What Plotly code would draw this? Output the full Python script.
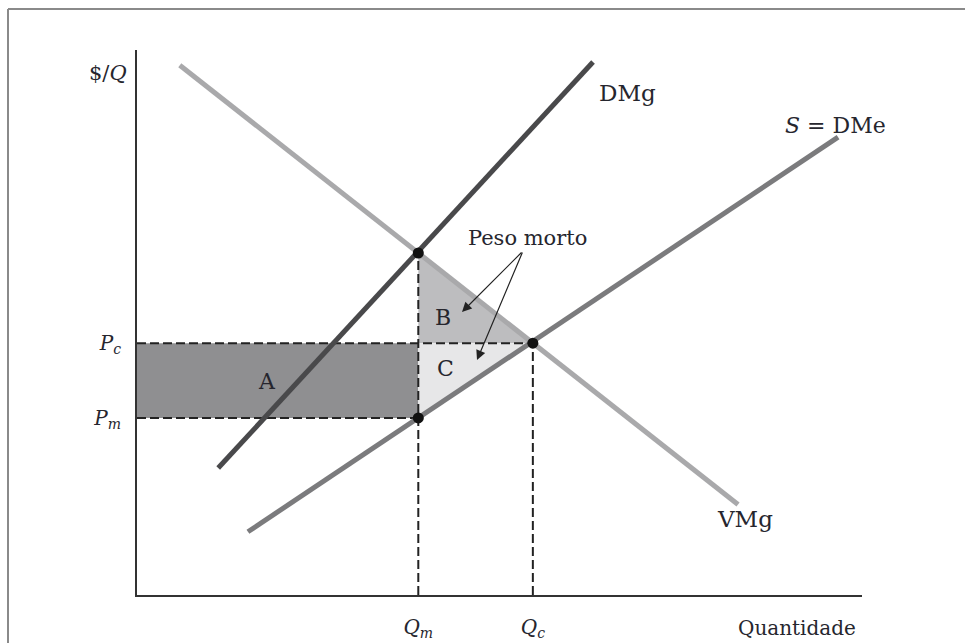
import plotly.graph_objects as go

# ---- data (schematic economics diagram, 0-100 units) ----
vmg_x = [5.9, 82.9]
vmg_y = [97.2, 16.6]
dmg_x = [11.2, 62.9]
dmg_y = [23.3, 97.8]
s_x = [15.3, 96.7]
s_y = [11.6, 84.0]

Qm, Qc = 38.8, 54.6
Pm, Pc = 32.5, 46.2
P_top = 62.75  # VMg at Qm

x_tickvals = [Qm, Qc]
x_ticktext = ["<i>Q<sub>m</sub></i>", "<i>Q<sub>c</sub></i>"]
y_tickvals = [Pm, Pc]
y_ticktext = ["<i>P<sub>m</sub></i>", "<i>P<sub>c</sub></i>"]

FONT = "DejaVu Serif"
TXT = "#26262e"

W, H = 965, 643
x0px, x1px = 137, 862
y0px, y1px = 595, 50

fig = go.Figure()

# shaded regions
fig.add_trace(go.Scatter(x=[0, Qm, Qm, 0], y=[Pm, Pm, Pc, Pc], fill="toself",
                         fillcolor="#8f8f91", line=dict(width=0), mode="lines",
                         hoverinfo="skip", showlegend=False))
fig.add_trace(go.Scatter(x=[Qm, Qm, Qc], y=[P_top, Pc, Pc], fill="toself",
                         fillcolor="#bdbdbf", line=dict(width=0), mode="lines",
                         hoverinfo="skip", showlegend=False))
fig.add_trace(go.Scatter(x=[Qm, Qc, Qm], y=[Pc, Pc, Pm], fill="toself",
                         fillcolor="#e7e7e8", line=dict(width=0), mode="lines",
                         hoverinfo="skip", showlegend=False))

# dashed guide lines
dash = dict(color="#222", width=2, dash="9px,4px")
fig.add_trace(go.Scatter(x=[0, Qc], y=[Pc, Pc], mode="lines", line=dash,
                         hoverinfo="skip", showlegend=False))
fig.add_trace(go.Scatter(x=[0, Qm], y=[Pm, Pm], mode="lines", line=dash,
                         hoverinfo="skip", showlegend=False))
fig.add_trace(go.Scatter(x=[Qm, Qm], y=[0, P_top], mode="lines", line=dash,
                         hoverinfo="skip", showlegend=False))
fig.add_trace(go.Scatter(x=[Qc, Qc], y=[0, Pc], mode="lines", line=dash,
                         hoverinfo="skip", showlegend=False))

# curves
fig.add_trace(go.Scatter(x=vmg_x, y=vmg_y, mode="lines",
                         line=dict(color="#a9a9ab", width=5),
                         hoverinfo="skip", showlegend=False))
fig.add_trace(go.Scatter(x=s_x, y=s_y, mode="lines",
                         line=dict(color="#7b7b7d", width=5),
                         hoverinfo="skip", showlegend=False))
fig.add_trace(go.Scatter(x=dmg_x, y=dmg_y, mode="lines",
                         line=dict(color="#49494b", width=5),
                         hoverinfo="skip", showlegend=False))

# points
fig.add_trace(go.Scatter(x=[Qm, Qc, Qm], y=[P_top, Pc, Pm], mode="markers",
                         marker=dict(color="#111", size=11),
                         hoverinfo="skip", showlegend=False))

def px_x(p):
    return (p - x0px) / (x1px - x0px) * 100

def px_y(p):
    return (y0px - p) / (y0px - y1px) * 100

ann = []
def label(text, xp, yp, xanchor="center", size=22):
    ann.append(dict(x=xp / W, y=1 - yp / H, xref="paper", yref="paper", text=text,
                    showarrow=False, xanchor=xanchor, yanchor="middle",
                    font=dict(family=FONT, size=size, color=TXT)))

label("$/<i>Q</i>", 129, 73, "right", 21)
label("Quantidade", 858, 628, "right", 20)
label("DMg", 597, 93, "left", 23)
label("<i>S</i> = DMe", 783, 126, "left", 22)
label("VMg", 745, 519, "center", 23)
label("A", 267, 381)
label("B", 443, 317)
label("C", 445, 368)
label("Peso morto", 527, 238, "center", 21)

# arrows from "Peso morto"
tail = (px_x(523), px_y(251))
for hx, hy in [(462, 312), (477, 360)]:
    ann.append(dict(x=px_x(hx), y=px_y(hy), ax=tail[0], ay=tail[1],
                    xref="x", yref="y", axref="x", ayref="y", text="",
                    showarrow=True, arrowhead=2, arrowsize=1.6, arrowwidth=1.2,
                    arrowcolor="#222"))

fig.update_layout(
    width=W, height=H, margin=dict(l=0, r=0, t=0, b=0, autoexpand=False),
    paper_bgcolor="white", plot_bgcolor="white",
    annotations=ann,
    xaxis=dict(domain=[x0px / W, x1px / W], range=[0, 100], showgrid=False,
               zeroline=False, showline=True, linecolor="#333", linewidth=2,
               tickvals=x_tickvals, ticktext=x_ticktext, ticks="",
               ticklabelstandoff=13, automargin=False,
               tickfont=dict(family=FONT, size=20, color=TXT)),
    yaxis=dict(domain=[(H - y0px) / H, (H - y1px) / H], range=[0, 100],
               showgrid=False, zeroline=False, showline=True, linecolor="#333",
               linewidth=2, tickvals=y_tickvals, ticktext=y_ticktext, ticks="",
               ticklabelstandoff=10, automargin=False,
               tickfont=dict(family=FONT, size=20, color=TXT)),
    shapes=[
        dict(type="line", xref="paper", yref="paper",
             x0=8 / W, x1=8 / W, y0=-0.05, y1=(H - 9) / H,
             line=dict(color="#8a8a8a", width=2)),
        dict(type="line", xref="paper", yref="paper",
             x0=8 / W, x1=1.05, y0=(H - 9) / H, y1=(H - 9) / H,
             line=dict(color="#8a8a8a", width=2)),
    ],
)

fig.write_html(
    "out.html",
    config={"displayModeBar": False},
    post_script="document.body.style.margin='0';document.body.style.overflow='hidden';",
)
